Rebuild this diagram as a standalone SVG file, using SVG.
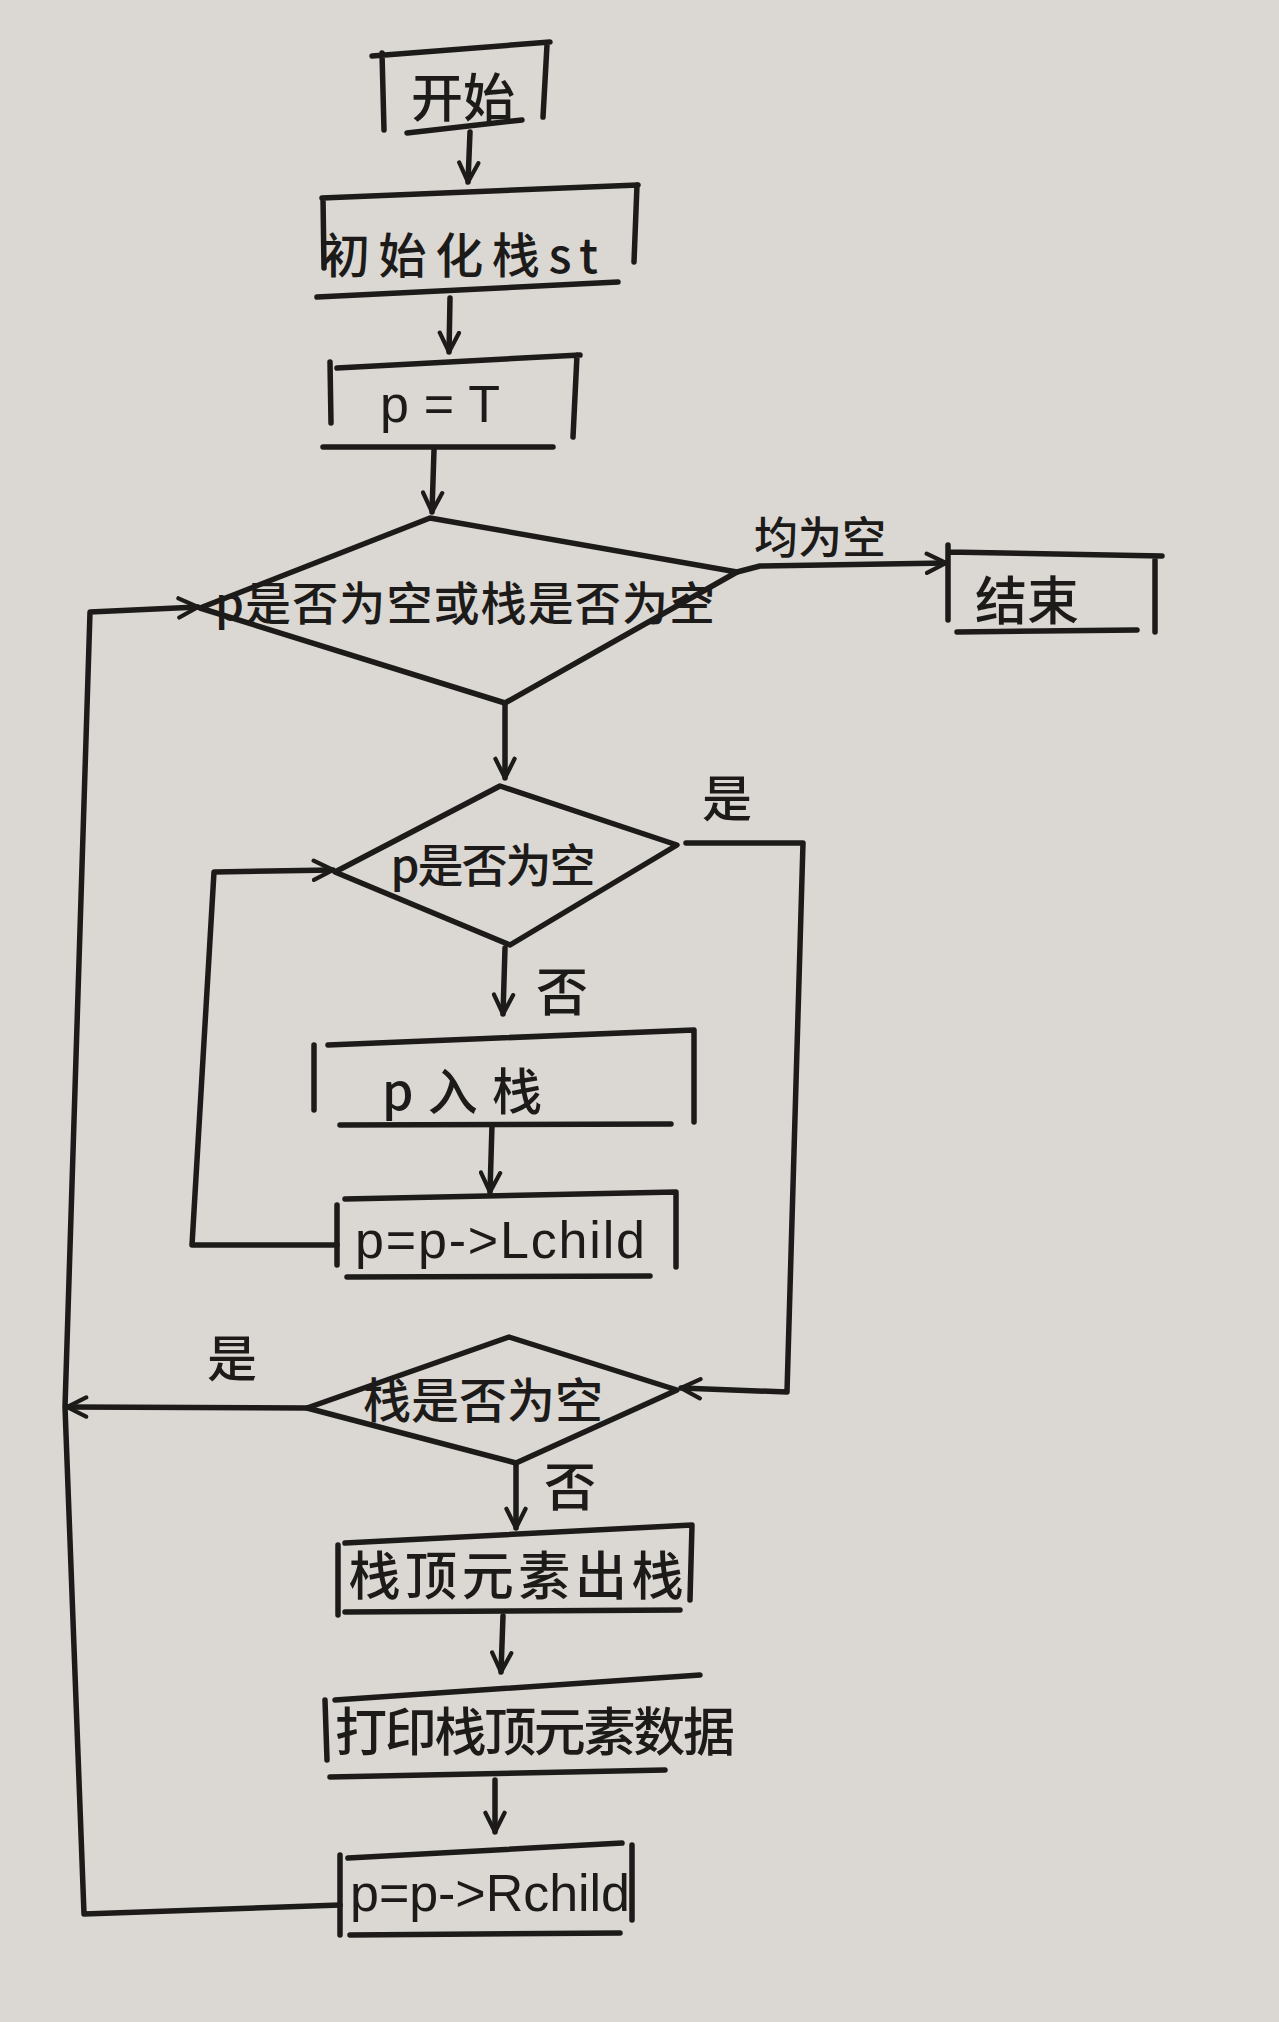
<svg xmlns="http://www.w3.org/2000/svg" width="1279" height="2022" viewBox="0 0 1279 2022">
<style>
.ln{fill:none;stroke:#1d1b19;stroke-width:5.5;stroke-linecap:round;stroke-linejoin:round}
.t{font-family:"Noto Sans CJK SC","Noto Sans",sans-serif;font-weight:500;fill:#1d1b19;text-anchor:middle;dominant-baseline:central}
.lat{font-family:"Liberation Sans","Noto Sans",sans-serif;fill:#1d1b19;text-anchor:middle;dominant-baseline:central}
</style>
<defs>
<marker id="arr" viewBox="0 0 20 20" refX="18" refY="10" markerWidth="24" markerHeight="24" markerUnits="userSpaceOnUse" orient="auto">
<path d="M2,2 L18,10 L2,18" fill="none" stroke="#1d1b19" stroke-width="3.5" stroke-linecap="round"/>
</marker>
</defs>
<rect x="0" y="0" width="1279" height="2022" fill="#dbd8d3"/>

<g id="connectors">
<path class="ln" d="M470,132 L468,182" marker-end="url(#arr)"/>
<path class="ln" d="M450,298 L449,352" marker-end="url(#arr)"/>
<path class="ln" d="M434,450 L432,512" marker-end="url(#arr)"/>
<path class="ln" d="M737,572 L760,566 L946,563" marker-end="url(#arr)"/>
<text class="t" x="820" y="535" font-size="44">均为空</text>
<path class="ln" d="M505,703 L505,778" marker-end="url(#arr)"/>
<path class="ln" d="M686,843 L803,843 L787,1392 L681,1388" marker-end="url(#arr)"/>
<text class="t" x="727" y="795" font-size="50">是</text>
<path class="ln" d="M505,948 L503,1014" marker-end="url(#arr)"/>
<text class="t" x="562" y="988" font-size="52">否</text>
<path class="ln" d="M492,1125 L490,1192" marker-end="url(#arr)"/>
<path class="ln" d="M337,1245 L192,1245 L214,872 L333,870" marker-end="url(#arr)"/>
<path class="ln" d="M307,1408 L67,1407" marker-end="url(#arr)"/>
<text class="t" x="232" y="1355" font-size="50">是</text>
<path class="ln" d="M516,1463 L516,1528" marker-end="url(#arr)"/>
<text class="t" x="570" y="1483" font-size="52">否</text>
<path class="ln" d="M503,1616 L501,1672" marker-end="url(#arr)"/>
<path class="ln" d="M495,1780 L495,1832" marker-end="url(#arr)"/>
<path class="ln" d="M340,1905 L84,1914 L65,1407 L90,612 L198,607" marker-end="url(#arr)"/>
</g>

<g id="start">
<path class="ln" d="M372,56 L550,42 M382,53 L384,130 M547,45 L543,117 M407,133 L522,120"/>
<text class="t" x="463" y="94" font-size="52">开始</text>
</g>

<g id="init">
<path class="ln" d="M322,198 L638,185 M323,198 L324,268 M637,185 L634,262 M317,297 L618,282"/>
<text class="t" x="460" y="252" font-size="48" textLength="276" lengthAdjust="spacing">初始化栈st</text>
</g>

<g id="assignT">
<path class="ln" d="M337,368 L580,355 M330,362 L331,423 M577,355 L573,437 M323,447 L553,447"/>
<text class="lat" x="440" y="404" font-size="52" textLength="120" lengthAdjust="spacing">p = T</text>
</g>

<g id="cond1">
<path class="ln" d="M200,608 L430,518 L737,572 L505,703 Z"/>
<text class="t" x="465" y="600" font-size="46" textLength="500" lengthAdjust="spacing">p是否为空或栈是否为空</text>
</g>

<g id="end">
<path class="ln" d="M948,545 L948,620 M948,552 L1162,556 M1155,560 L1155,632 M957,632 L1137,630"/>
<text class="t" x="1027" y="597" font-size="52">结束</text>
</g>

<g id="cond2">
<path class="ln" d="M335,872 L500,786 L677,845 L510,945 Z"/>
<text class="t" x="493" y="862" font-size="46" textLength="205" lengthAdjust="spacing">p是否为空</text>
</g>

<g id="push">
<path class="ln" d="M314,1045 L314,1110 M328,1045 L694,1030 L694,1122 M340,1125 L671,1124"/>
<text class="t" x="462" y="1088" font-size="50" textLength="160" lengthAdjust="spacing">p入栈</text>
</g>

<g id="left">
<path class="ln" d="M337,1205 L337,1265 M345,1199 L676,1192 L676,1267 M347,1277 L650,1276"/>
<text class="lat" x="500" y="1240" font-size="52" textLength="290" lengthAdjust="spacing">p=p-&gt;Lchild</text>
</g>

<g id="cond3">
<path class="ln" d="M307,1408 L509,1337 L677,1390 L516,1463 Z"/>
<text class="t" x="483" y="1397" font-size="48" textLength="240" lengthAdjust="spacing">栈是否为空</text>
</g>

<g id="pop">
<path class="ln" d="M338,1545 L338,1615 M345,1543 L692,1525 L690,1600 M345,1612 L680,1610"/>
<text class="t" x="516" y="1572" font-size="52" textLength="335" lengthAdjust="spacing">栈顶元素出栈</text>
</g>

<g id="print">
<path class="ln" d="M325,1700 L327,1760 M335,1700 L700,1675 M330,1777 L665,1770"/>
<text class="t" x="535" y="1728" font-size="52" textLength="400" lengthAdjust="spacing">打印栈顶元素数据</text>
</g>

<g id="right">
<path class="ln" d="M340,1855 L340,1935 M348,1858 L622,1843 M632,1845 L632,1920 M350,1935 L620,1933"/>
<text class="lat" x="490" y="1893" font-size="52" textLength="280" lengthAdjust="spacing">p=p-&gt;Rchild</text>
</g>
</svg>
